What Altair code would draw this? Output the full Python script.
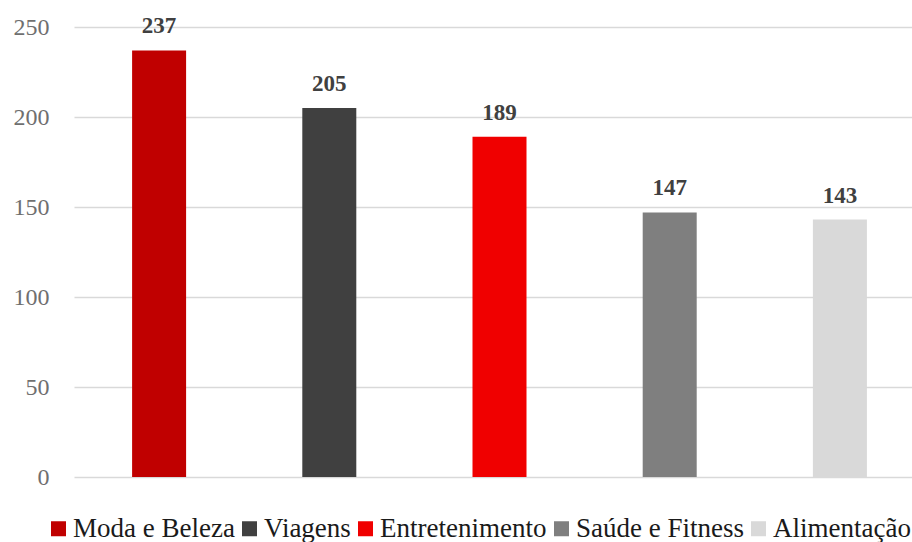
import altair as alt
import pandas as pd

categories = ["Moda e Beleza", "Viagens", "Entretenimento", "Saúde e Fitness", "Alimentação"]
values = [237, 205, 189, 147, 143]
colors = ["#C00000", "#404040", "#F00000", "#7F7F7F", "#D9D9D9"]

df = pd.DataFrame({"categoria": categories, "valor": values})

SERIF = "Liberation Serif"

x_scale = alt.Scale(range=[0, 851], paddingInner=0, paddingOuter=0)

y_enc = alt.Y(
    "valor:Q",
    scale=alt.Scale(domain=[0, 250], nice=False, zero=True),
    axis=alt.Axis(
        values=[0, 50, 100, 150, 200, 250],
        title=None,
        domain=False,
        ticks=False,
        labelPadding=25,
        labelFont=SERIF,
        labelFontSize=24,
        labelColor="#6f6f6f",
        gridColor="#d9d9d9",
        gridWidth=1.3,
    ),
)

bars = alt.Chart(df).mark_bar(size=54).encode(
    x=alt.X("categoria:N", sort=categories, axis=None, scale=x_scale),
    y=y_enc,
    color=alt.Color(
        "categoria:N",
        sort=categories,
        scale=alt.Scale(domain=categories, range=colors),
        legend=alt.Legend(
            title=None,
            orient="none",
            direction="horizontal",
            legendX=-29,
            legendY=488,
            symbolType="square",
            symbolSize=225,
            symbolStrokeWidth=0,
            labelFont=SERIF,
            labelFontSize=27,
            labelColor="#1a1a1a",
            labelOffset=1,
            columnPadding=1,
            labelLimit=400,
        ),
    ),
)

labels = alt.Chart(df).mark_text(
    font=SERIF,
    fontSize=23,
    fontWeight="bold",
    color="#404040",
    baseline="alphabetic",
    dy=-17,
).encode(
    x=alt.X("categoria:N", sort=categories, axis=None, scale=x_scale),
    y=alt.Y("valor:Q"),
    text=alt.Text("valor:Q"),
)

chart = (
    alt.layer(bars, labels)
    .properties(
        width=838,
        height=450,
        autosize=alt.AutoSizeParams(type="none"),
        padding={"left": 74, "top": 27, "right": 0, "bottom": 65},
        background="white",
    )
    .configure_view(stroke=None)
)

chart.save("out.html", embed_options={"renderer": "svg", "actions": False})
